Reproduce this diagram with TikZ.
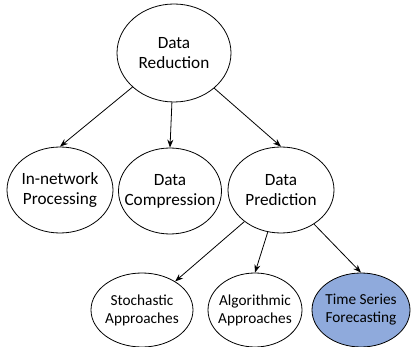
\documentclass[tikz,border=0pt]{standalone}
\usepackage{fontspec}
\setmainfont{Carlito}
\usetikzlibrary{shapes.geometric,arrows.meta}
\definecolor{tsblue}{HTML}{8FAADC}

\begin{document}
\begin{tikzpicture}[x = 1pt, y = -1pt,
        bubble/.style = {ellipse, draw, thick, inner sep = 0pt,
            label = {[align = center, font = \fontsize{17.2}{20}\selectfont]center:#1}},
        leaf/.style = {ellipse, draw, thick, inner sep = 0pt, minimum height = 74pt,
            label = {[align = center, font = \fontsize{15.3}{18}\selectfont]center:#1}},
        link/.style = {thick, -{Stealth[length = 8pt, width = 6pt]}}]
        \useasboundingbox (0,0) rectangle (412,347);
        
        \node[bubble = {Data\\Reduction}, minimum width = 114pt, minimum height = 98pt] (red) at (174,53) {};
        
        \node[bubble = {In-network\\Processing}, minimum width = 106pt, minimum height = 86pt] (inp) at (60,190) {};
        \node[bubble = {Data\\Compression}, minimum width = 103pt, minimum height = 86pt] (comp) at (170,191) {};
        \node[bubble = {Data\\Prediction}, minimum width = 106pt, minimum height = 86pt] (pred) at (281,190) {};
        
        \node[leaf = {Stochastic\\Approaches}, minimum width = 102pt] (stoch) at (142,310) {};
        \node[leaf = {Algorithmic\\Approaches}, minimum width = 94pt] (algo) at (255,310) {};
        \node[leaf = {Time Series\\Forecasting}, minimum width = 98pt, fill = tsblue] (tsf) at (361,310) {};
        
        \draw[link] (red) -- (inp.north);
        \draw[link] (red) -- (comp.north);
        \draw[link] (red) -- (pred.north);
        
        \draw[link] (pred) -- (stoch);
        \draw[link] (pred) -- (algo.north);
        \draw[link] (pred) -- (tsf.north);
    \end{tikzpicture}
\end{document}
